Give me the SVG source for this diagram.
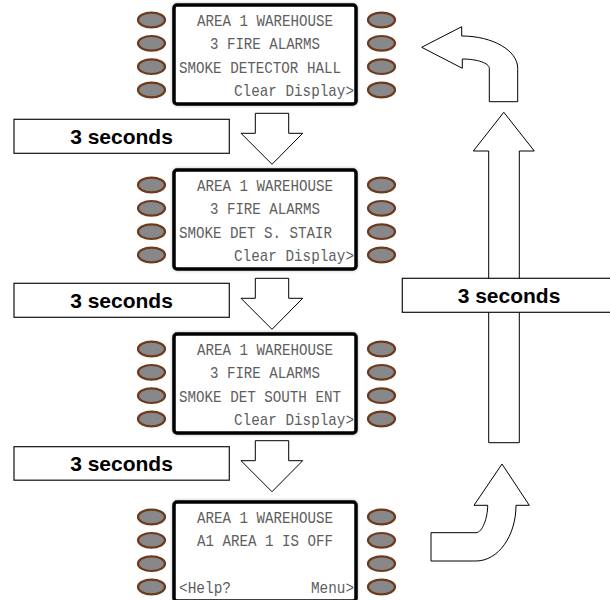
<svg xmlns="http://www.w3.org/2000/svg" width="610" height="600" viewBox="0 0 610 600">
<defs>
<style>
.btn{fill:#88888b;stroke:#6e3a1c;stroke-width:2.2}
.scr{fill:#fff;stroke:#000;stroke-width:3.5}
.sh{fill:none;stroke:#9a9a9a;stroke-width:4;opacity:0.6}
.lcd{font-family:"Liberation Mono","DejaVu Sans Mono",monospace;font-size:17px;fill:#5e5e5e}
.lbl{fill:#fff;stroke:#111;stroke-width:1.2}
.lt{font-family:"Liberation Sans",Arial,sans-serif;font-weight:bold;font-size:21px;fill:#000;text-anchor:middle}
.arr{fill:#fff;stroke:#000;stroke-width:1}
</style>
<filter id="blur" x="-10%" y="-10%" width="120%" height="120%"><feGaussianBlur stdDeviation="1.5"/></filter>
<g id="btns">
<ellipse class="btn" cx="151.5" cy="15" rx="13.5" ry="7.3"/>
<ellipse class="btn" cx="151.5" cy="38.3" rx="13.5" ry="7.3"/>
<ellipse class="btn" cx="151.5" cy="61.7" rx="13.5" ry="7.3"/>
<ellipse class="btn" cx="151.5" cy="85" rx="13.5" ry="7.3"/>
<ellipse class="btn" cx="381.5" cy="15" rx="13.5" ry="7.3"/>
<ellipse class="btn" cx="381.5" cy="38.3" rx="13.5" ry="7.3"/>
<ellipse class="btn" cx="381.5" cy="61.7" rx="13.5" ry="7.3"/>
<ellipse class="btn" cx="381.5" cy="85" rx="13.5" ry="7.3"/>
<rect class="sh" x="174" y="0" width="182" height="99" rx="3" filter="url(#blur)"/>
<rect class="scr" x="174" y="0" width="182" height="99" rx="3"/>
</g>
</defs>

<g id="connectors">
<path id="down1" class="arr" d="M255.3,113.3 H288.7 V133.3 H302.7 L272,164.3 L241,133.3 H255.3 Z"/>
<path id="down2" class="arr" d="M255.3,278.3 H288.7 V298.3 H302.7 L272,329.3 L241,298.3 H255.3 Z"/>
<path id="down3" class="arr" d="M255.3,440.7 H288.7 V460.7 H302.7 L272,491.7 L241,460.7 H255.3 Z"/>
<path id="curve-bottom" class="arr" d="M502,464 L529.3,505.3 H516 C516,536.1 498.1,561 476,561 H431 V532.7 H476 C482.5,532.7 487.7,517.6 487.7,505.3 H474 Z"/>
<path id="up-long" class="arr" d="M503.8,112.3 L534.3,151 H519.3 V442.7 H488.7 V151 H473.3 Z"/>
<path id="curve-top" class="arr" d="M421.7,47.3 L461.7,26.7 V36 C492.7,36 517.7,50.5 517.7,68.3 V101.7 H489.3 V68.3 C489.3,63.2 477.2,59 462.3,59 V68.3 Z"/>
</g>

<g id="panel1" transform="translate(0,5)">
<use href="#btns"/>
<text class="lcd" x="265" y="21" text-anchor="middle" textLength="136" lengthAdjust="spacingAndGlyphs">AREA 1 WAREHOUSE</text>
<text class="lcd" x="265" y="44.3" text-anchor="middle" textLength="110" lengthAdjust="spacingAndGlyphs">3 FIRE ALARMS</text>
<text class="lcd" x="179" y="67.7" textLength="162" lengthAdjust="spacingAndGlyphs">SMOKE DETECTOR HALL</text>
<text class="lcd" x="354" y="91" text-anchor="end" textLength="120" lengthAdjust="spacingAndGlyphs">Clear Display&gt;</text>
</g>

<g id="panel2" transform="translate(0,170)">
<use href="#btns"/>
<text class="lcd" x="265" y="21" text-anchor="middle" textLength="136" lengthAdjust="spacingAndGlyphs">AREA 1 WAREHOUSE</text>
<text class="lcd" x="265" y="44.3" text-anchor="middle" textLength="110" lengthAdjust="spacingAndGlyphs">3 FIRE ALARMS</text>
<text class="lcd" x="179" y="67.7" textLength="153" lengthAdjust="spacingAndGlyphs">SMOKE DET S. STAIR</text>
<text class="lcd" x="354" y="91" text-anchor="end" textLength="120" lengthAdjust="spacingAndGlyphs">Clear Display&gt;</text>
</g>

<g id="panel3" transform="translate(0,334)">
<use href="#btns"/>
<text class="lcd" x="265" y="21" text-anchor="middle" textLength="136" lengthAdjust="spacingAndGlyphs">AREA 1 WAREHOUSE</text>
<text class="lcd" x="265" y="44.3" text-anchor="middle" textLength="110" lengthAdjust="spacingAndGlyphs">3 FIRE ALARMS</text>
<text class="lcd" x="179" y="67.7" textLength="162" lengthAdjust="spacingAndGlyphs">SMOKE DET SOUTH ENT</text>
<text class="lcd" x="354" y="91" text-anchor="end" textLength="120" lengthAdjust="spacingAndGlyphs">Clear Display&gt;</text>
</g>

<g id="panel4" transform="translate(0,502)">
<use href="#btns"/>
<text class="lcd" x="265" y="21" text-anchor="middle" textLength="136" lengthAdjust="spacingAndGlyphs">AREA 1 WAREHOUSE</text>
<text class="lcd" x="265" y="44.3" text-anchor="middle" textLength="136" lengthAdjust="spacingAndGlyphs">A1 AREA 1 IS OFF</text>
<text class="lcd" x="179" y="91" textLength="52" lengthAdjust="spacingAndGlyphs">&lt;Help?</text>
<text class="lcd" x="354" y="91" text-anchor="end" textLength="43" lengthAdjust="spacingAndGlyphs">Menu&gt;</text>
</g>

<g id="label1">
<rect class="lbl" x="14" y="119.3" width="215.3" height="34"/>
<text class="lt" x="121.5" y="144">3 seconds</text>
</g>
<g id="label2">
<rect class="lbl" x="14" y="283.3" width="215.3" height="34"/>
<text class="lt" x="121.5" y="308">3 seconds</text>
</g>
<g id="label3">
<rect class="lbl" x="14" y="446.7" width="215.3" height="33.5"/>
<text class="lt" x="121.5" y="471">3 seconds</text>
</g>
<g id="label4">
<rect class="lbl" x="402.3" y="278.3" width="212" height="34"/>
<text class="lt" x="509" y="303">3 seconds</text>
</g>
</svg>
